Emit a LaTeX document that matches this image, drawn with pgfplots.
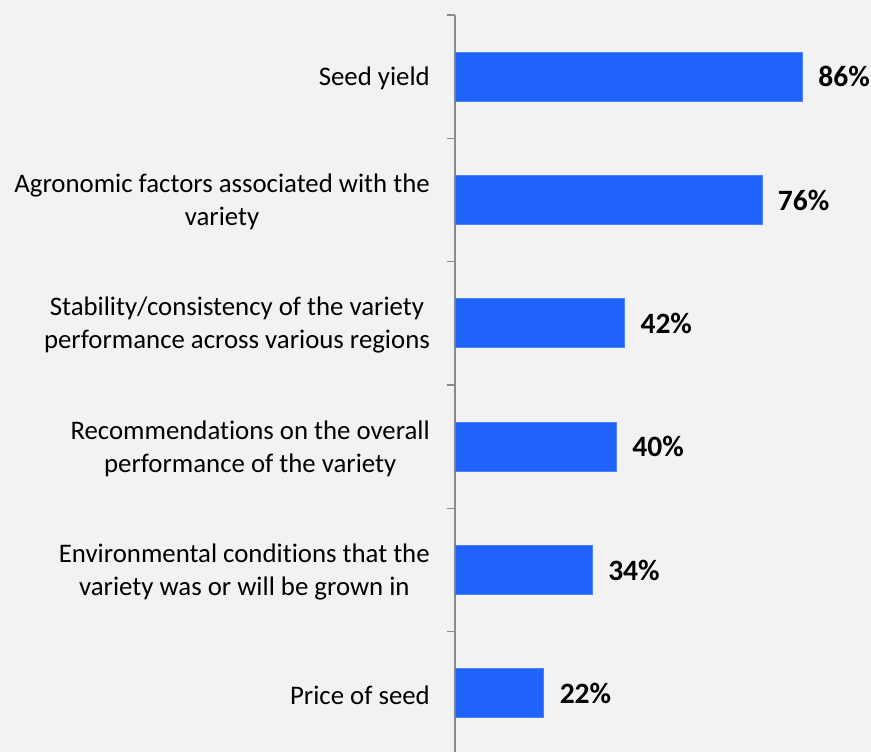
\documentclass[border=0pt]{standalone}
\usepackage{pgfplots}
\pgfplotsset{compat=1.18}
\usepackage{fontspec}
\setmainfont{Carlito}[Ligatures=NoCommon]
\definecolor{bg}{HTML}{F2F2F2}
\definecolor{barblue}{HTML}{1F63FA}
\definecolor{baredge}{HTML}{4A82F5}
\definecolor{axgray}{HTML}{8A8A8A}
\begin{document}
\begin{tikzpicture}[x=1pt,y=1pt]
\fill[bg] (0,0) rectangle (871,752);
\useasboundingbox (0,0) rectangle (871,752);
\begin{axis}[
  at={(455pt,-3pt)}, anchor=south west,
  scale only axis, width=404pt, height=740pt,
  xmin=0, xmax=100,
  ymin=-0.5, ymax=5.5, y dir=reverse,
  axis x line=none, axis y line=left,
  axis line style={axgray, line width=1.6pt, -},
  y axis line style={-},
  ytick={0,1,2,3,4,5},
  major tick length=0pt,
  /pgf/number format/assume math mode=true,
  yticklabels={
    Seed yield,
    {Agronomic factors associated with the\\variety},
    {Stability/consistency of the variety\\performance across various regions},
    {Recommendations on the overall\\performance of the variety},
    {Environmental conditions that the\\variety was or will be grown in},
    Price of seed},
  yticklabel style={align=center, anchor=east, inner sep=0pt, xshift=-25pt, yshift=-2pt,
    font=\fontsize{26.8}{32.8}\selectfont, text=black},
  extra y ticks={-0.5,0.5,1.5,2.5,3.5,4.5,5.5},
  extra y tick labels={},
  extra y tick style={major tick length=8pt, tick align=outside,
    tick style={axgray, line width=1.6pt}},
  clip=false,
  xbar, bar width=49pt,
  nodes near coords={\pgfmathprintnumber{\pgfplotspointmeta}\%},
  point meta=x,
  nodes near coords style={anchor=west, inner sep=0pt, xshift=15.5pt,
    font=\bfseries\fontsize{29.5}{35}\selectfont, text=black},
]
\addplot[fill=barblue, draw=baredge, line width=0.8pt]
  coordinates {(86,0) (76,1) (42,2) (40,3) (34,4) (22,5)};
\end{axis}
\end{tikzpicture}
\end{document}
